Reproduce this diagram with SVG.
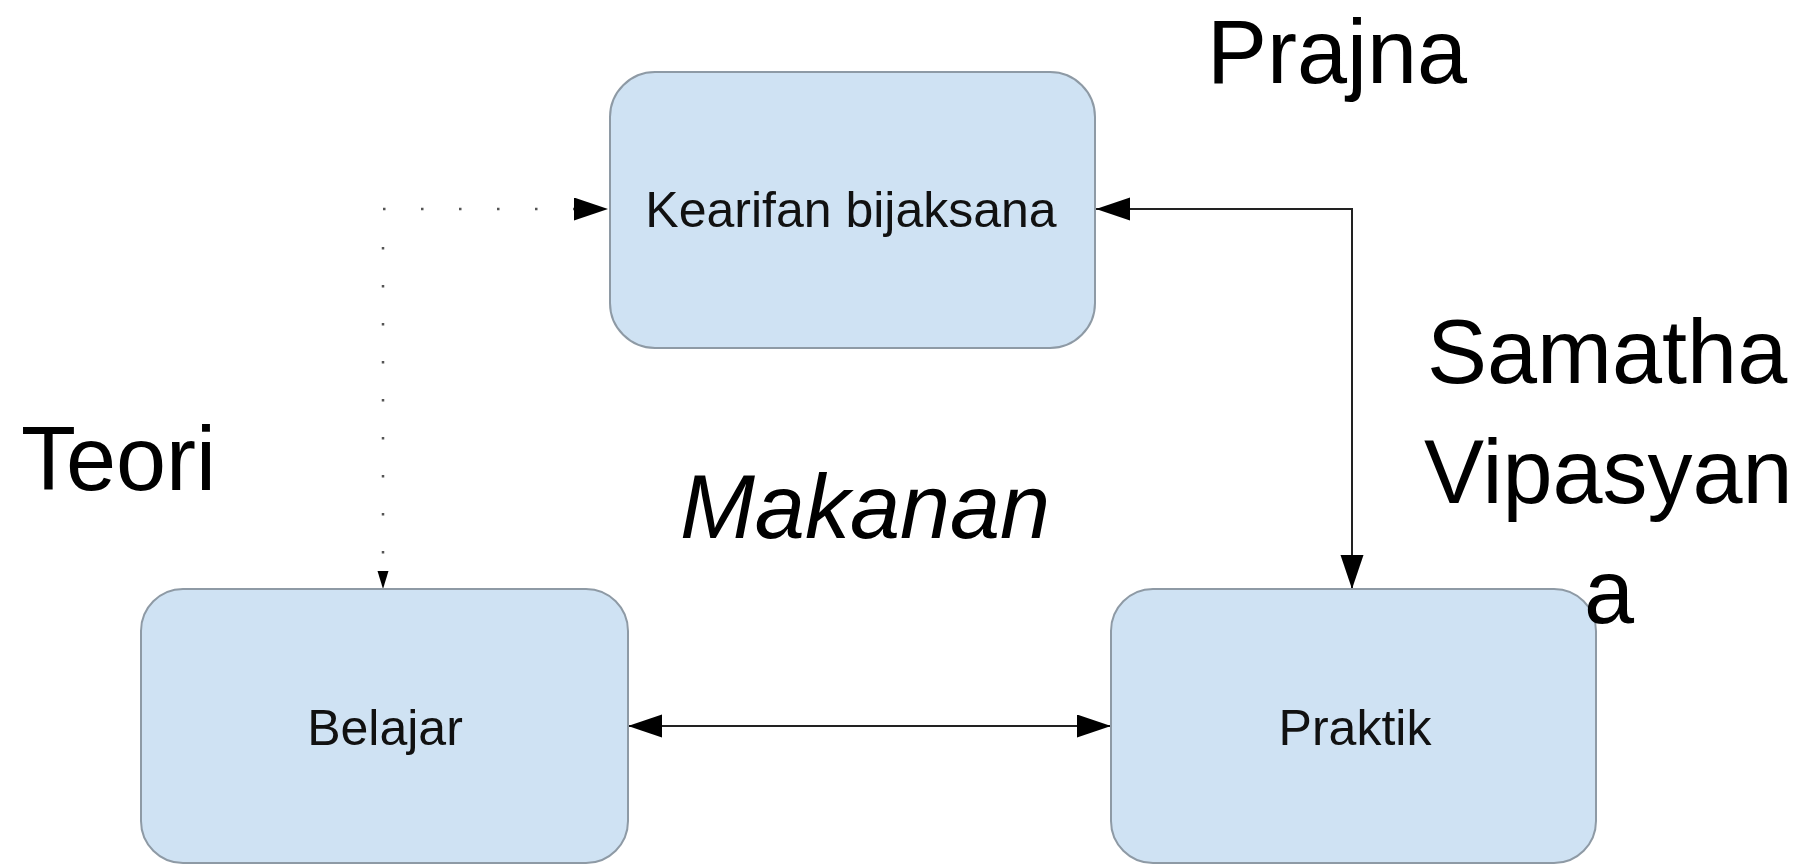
<svg xmlns="http://www.w3.org/2000/svg" width="1804" height="864" viewBox="0 0 1804 864">
<defs>
<style>
.box{fill:#cfe2f3;stroke:#8e9aa5;stroke-width:2}
.nt{font-family:"Liberation Sans",Arial,sans-serif;font-size:50px;fill:#111;text-anchor:middle}
.big{font-family:"Liberation Sans",Arial,sans-serif;font-size:90px;fill:#000}
.ln{fill:none;stroke:#222;stroke-width:2}
.dot{fill:none;stroke:#555;stroke-width:2.5;stroke-dasharray:2.5 35.5}
</style>
<marker id="ah" markerUnits="userSpaceOnUse" markerWidth="36" markerHeight="24" refX="34" refY="11.5" orient="auto-start-reverse" viewBox="0 0 36 24">
<path d="M0,0 L34,11.5 L0,23 z" fill="#000"/>
</marker>
<marker id="ahs" markerUnits="userSpaceOnUse" markerWidth="20" markerHeight="12" refX="18" refY="5.5" orient="auto" viewBox="0 0 20 12">
<path d="M0,0 L18,5.5 L0,11 z" fill="#000"/>
</marker>
</defs>
<rect width="1804" height="864" fill="#fff"/>
<g id="connectors">
<path class="dot" d="M383,209 H574"/>
<path d="M574,209 H608" fill="none" stroke="none" marker-end="url(#ah)"/>
<path class="dot" d="M383,247 V572"/>
<path d="M383,560 V589" fill="none" stroke="none" marker-end="url(#ahs)"/>
<path class="ln" d="M1096,209 H1352 V589" marker-start="url(#ah)" marker-end="url(#ah)"/>
<path class="ln" d="M628,726 H1111" marker-start="url(#ah)" marker-end="url(#ah)"/>
</g>
<g id="node-kearifan">
<rect class="box" x="610" y="72" width="485" height="276" rx="45" ry="45"/>
<text class="nt" x="851" y="227">Kearifan bijaksana</text>
</g>
<g id="node-belajar">
<rect class="box" x="141" y="589" width="487" height="274" rx="42" ry="42"/>
<text class="nt" x="385" y="745">Belajar</text>
</g>
<g id="node-praktik">
<rect class="box" x="1111" y="589" width="485" height="274" rx="42" ry="42"/>
<text class="nt" x="1355" y="745">Praktik</text>
</g>
<g id="labels">
<text class="big" x="21" y="490" font-size="93">Teori</text>
<text class="big" x="865" y="538" font-style="italic" text-anchor="middle">Makanan</text>
<text class="big" x="1337" y="83" text-anchor="middle">Prajna</text>
<text class="big"><tspan x="1427" y="383">Samatha</tspan><tspan x="1424" y="503">Vipasyan</tspan><tspan x="1584" y="623">a</tspan></text>
</g>
</svg>
